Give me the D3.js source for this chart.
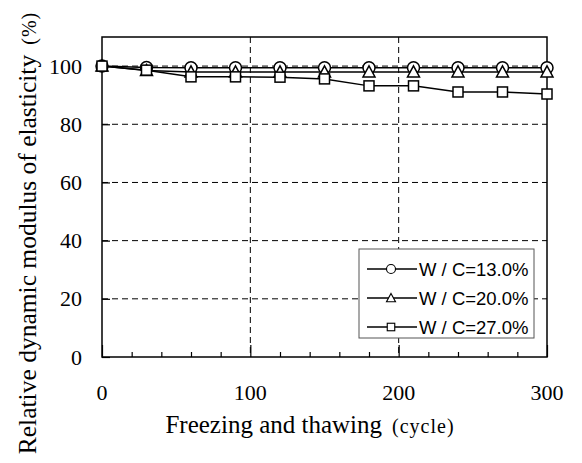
<!DOCTYPE html>
<html>
<head>
<meta charset="utf-8">
<script src="https://cdn.jsdelivr.net/npm/d3@7"></script>
<style>
body { margin: 0; background: #fff; }
svg { display: block; }
</style>
</head>
<body>
<svg id="chart" width="582" height="463"></svg>
<script>
var cycles = [0, 30, 60, 90, 120, 150, 180, 210, 240, 270, 300];
var wc130 = [100, 99.5, 99.4, 99.4, 99.4, 99.4, 99.4, 99.4, 99.4, 99.4, 99.4];
var wc200 = [100, 98.5, 98, 98, 98, 98, 98, 98, 98, 98, 98];
var wc270 = [100, 98.6, 96.3, 96.3, 96.2, 95.6, 93.2, 93.2, 91.1, 91.1, 90.4];
var seriesNames = ["W / C=13.0%", "W / C=20.0%", "W / C=27.0%"];
var xTicks = [0, 100, 200, 300];
var yTicks = [0, 20, 40, 60, 80, 100];

var series = [wc130, wc200, wc270].map(function(v, i) {
  return { name: seriesNames[i], shape: ["circle", "triangle", "square"][i],
    points: v.map(function(y, j) { return { x: cycles[j], y: y }; }) };
});

var svg = d3.select("#chart");
var mLeft = 102, mRight = 547, mTop = 37, mBottom = 357;

var x = d3.scaleLinear().domain([0, 300]).range([mLeft, mRight]);
var y = d3.scaleLinear().domain([0, 110]).range([mBottom, mTop]);

var serif = "'Liberation Serif', 'Times New Roman', serif";

// grid
var grid = svg.append("g").attr("stroke", "#000").attr("stroke-width", 1)
  .attr("stroke-dasharray", "6,4");
grid.selectAll("line.h").data([20, 40, 60, 80, 100]).enter().append("line")
  .attr("class", "h")
  .attr("x1", mLeft).attr("x2", mRight)
  .attr("y1", function(d) { return y(d); }).attr("y2", function(d) { return y(d); });
grid.selectAll("line.v").data([100, 200]).enter().append("line")
  .attr("class", "v")
  .attr("y1", mTop).attr("y2", mBottom)
  .attr("x1", function(d) { return x(d); }).attr("x2", function(d) { return x(d); });

// axes
var xAxis = svg.append("g").attr("transform", "translate(0," + mBottom + ")")
  .call(d3.axisBottom(x).tickValues(d3.range(0, 301, 20)).tickSize(-5).tickFormat(""));
xAxis.selectAll(".tick line").attr("y2", function(d) { return d % 100 === 0 ? -12 : -5; })
  .attr("stroke-width", 1.2);
xAxis.select(".domain").remove();

var yAxis = svg.append("g").attr("transform", "translate(" + mLeft + ",0)")
  .call(d3.axisLeft(y).tickValues(yTicks).tickSize(-8).tickFormat(""));
yAxis.selectAll(".tick line").attr("stroke-width", 1.2);
yAxis.select(".domain").remove();

svg.append("rect").attr("x", mLeft).attr("y", mTop)
  .attr("width", mRight - mLeft).attr("height", mBottom - mTop)
  .attr("fill", "none").attr("stroke", "#000").attr("stroke-width", 1.5);

svg.selectAll("text.xl").data(xTicks).enter().append("text")
  .attr("class", "xl")
  .attr("x", function(d) { return x(d); }).attr("y", 400)
  .attr("text-anchor", "middle")
  .style("font-family", serif)
  .style("font-size", "22px").text(function(d) { return d; });

svg.selectAll("text.yl").data(yTicks).enter().append("text")
  .attr("class", "yl")
  .attr("x", 82).attr("y", function(d) { return y(d) + 7.5; })
  .attr("text-anchor", "end")
  .style("font-family", serif)
  .style("font-size", "22px").text(function(d) { return d; });

// titles
var xt = svg.append("text").attr("x", 310).attr("y", 433).attr("text-anchor", "middle")
  .style("font-family", serif);
xt.append("tspan").style("font-size", "25px").text("Freezing and thawing");
xt.append("tspan").style("font-size", "20px").style("letter-spacing", "1px")
  .attr("dx", 10).text("(cycle)");

var yt = svg.append("text").attr("transform", "translate(36,233) rotate(-90)")
  .attr("text-anchor", "middle")
  .style("font-family", serif);
yt.append("tspan").style("font-size", "25.5px").text("Relative dynamic modulus of elasticity");
yt.append("tspan").style("font-size", "20px").style("letter-spacing", "1px")
  .attr("dx", 10).text("(%)");

// lines
var line = d3.line().x(function(d) { return x(d.x); }).y(function(d) { return y(d.y); });
svg.selectAll("path.series").data(series).enter().append("path")
  .attr("class", "series")
  .attr("d", function(d) { return line(d.points); })
  .attr("fill", "none").attr("stroke", "#000").attr("stroke-width", 1.5);

function marker(g, shape) {
  if (shape === "circle") {
    g.append("circle").attr("r", 6);
  } else if (shape === "triangle") {
    g.append("path").attr("d", "M0,-6L6,5L-6,5Z");
  } else {
    g.append("rect").attr("x", -5).attr("y", -5).attr("width", 10).attr("height", 10);
  }
  g.selectAll("*").attr("fill", "#fff").attr("stroke", "#000").attr("stroke-width", 1.5);
}

series.forEach(function(s) {
  svg.append("g").selectAll("g").data(s.points).enter().append("g")
    .attr("transform", function(d) { return "translate(" + x(d.x) + "," + y(d.y) + ")"; })
    .each(function() { marker(d3.select(this), s.shape); });
});

// legend
var lg = svg.append("g");
lg.append("rect").attr("x", 359).attr("y", 249).attr("width", 175).attr("height", 89)
  .attr("fill", "#fff").attr("stroke", "#555").attr("stroke-width", 1);
series.forEach(function(s, i) {
  var ly = 269 + i * 29;
  lg.append("line").attr("x1", 367).attr("x2", 417).attr("y1", ly).attr("y2", ly)
    .attr("stroke", "#000").attr("stroke-width", 1.5);
  var m = lg.append("g").attr("transform", "translate(391," + ly + ")");
  marker(m, s.shape);
  m.selectAll("*").attr("transform", "scale(0.75)");
  lg.append("text").attr("x", 419).attr("y", ly + 7)
    .style("font-family", "'Liberation Sans', Arial, sans-serif")
    .style("font-size", "18.5px").text(s.name);
});
</script>
</body>
</html>
